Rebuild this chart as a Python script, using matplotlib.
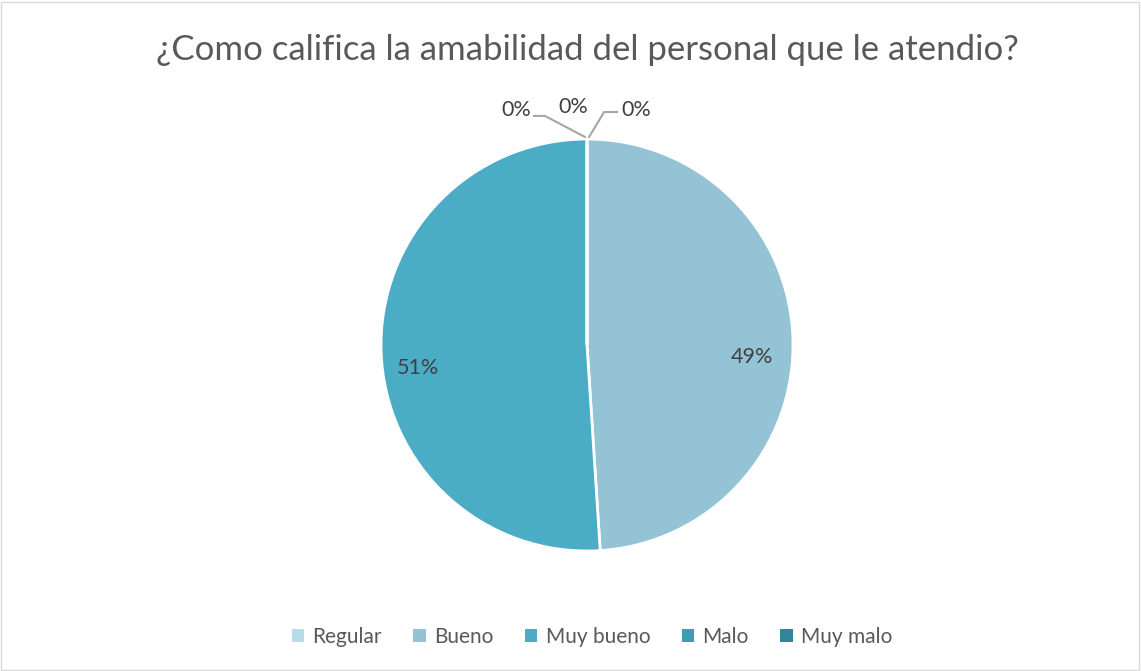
import matplotlib
matplotlib.use("Agg")
import matplotlib.pyplot as plt
from matplotlib.patches import Rectangle, Patch

plt.rcParams['font.family'] = ['Lato', 'DejaVu Sans']

title = "¿Como califica la amabilidad del personal que le atendio?"
categories = ["Regular", "Bueno", "Muy bueno", "Malo", "Muy malo"]
values = [0, 48, 50, 0, 0]
colors = ["#B7DCE8", "#93C3D5", "#4BACC6", "#3C9DB5", "#31849B"]

W, H = 1141, 671
fig = plt.figure(figsize=(W / 100, H / 100), dpi=100)
fig.patch.set_facecolor("white")
fig.add_artist(Rectangle((1 / W, 1 / H), 1 - 3 / W, 1 - 3 / H, transform=fig.transFigure,
                         fill=False, edgecolor="#D9D9D9", linewidth=1))

cx, cy, half = 587, 345, 309
ax = fig.add_axes([(cx - half) / W, (H - cy - half) / H, 2 * half / W, 2 * half / H])

total = sum(values)
wedges, _ = ax.pie(values, colors=colors, startangle=90, counterclock=False,
                   radius=1.0, wedgeprops=dict(edgecolor="white", linewidth=2))
ax.set_xlim(-1.5, 1.5)
ax.set_ylim(-1.5, 1.5)
ax.set_aspect("equal")
ax.axis("off")

pct = [f"{round(v / total * 100)}%" for v in values]
lc = "#404040"
fs = 15.5
# non-zero labels
ax.text(0.80, -0.06, pct[1], ha="center", va="center", fontsize=fs, color=lc)
ax.text(-0.82, -0.11, pct[2], ha="center", va="center", fontsize=fs, color=lc)
# zero labels at top with leader lines
ax.text(0.238, 1.141, pct[0], ha="center", va="center", fontsize=fs, color=lc)
ax.text(-0.068, 1.155, pct[4], ha="center", va="center", fontsize=fs, color=lc)
ax.text(-0.345, 1.141, pct[3], ha="center", va="center", fontsize=fs, color=lc)
ax.plot([-0.257, -0.204, -0.01], [1.112, 1.112, 1.01], color="#A6A6A6", lw=1.5,
        solid_joinstyle="miter", clip_on=False)
ax.plot([0.01, 0.083, 0.146], [1.01, 1.131, 1.131], color="#A6A6A6", lw=1.5,
        solid_joinstyle="miter", clip_on=False)

fig.text(587 / W, 1 - 50 / H, title, ha="center", va="center", fontsize=25, color="#595959")

handles = [Patch(facecolor=c, edgecolor="none") for c in colors]
fig.legend(handles, categories, loc="center", bbox_to_anchor=(592 / W, 1 - 637 / H),
           ncol=5, frameon=False, fontsize=15, labelcolor="#595959",
           handlelength=0.6, handleheight=0.6, handletextpad=0.4, columnspacing=1.5)

fig.savefig("out.png", dpi=100, facecolor="white")
